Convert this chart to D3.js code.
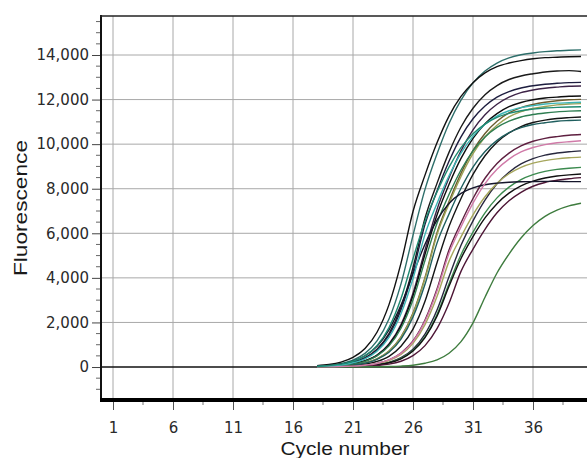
<!DOCTYPE html>
<html>
<head>
<meta charset="utf-8">
<script src="https://cdn.jsdelivr.net/npm/d3@7"></script>
<style>
  html, body { margin: 0; padding: 0; background: #fff; }
  svg { display: block; }
</style>
</head>
<body>
<svg id="chart" width="587" height="458"></svg>
<script>
// ---------- data ----------
const cycles = [18,19,20,21,22,23,24,25,26,27,28,29,30,31,32,33,34,35,36,37,38,39,40];

const xTickValues = [1, 6, 11, 16, 21, 26, 31, 36];
const yTickValues = [0, 2000, 4000, 6000, 8000, 10000, 12000, 14000];

const s01 = [40,80,160,310,610,1170,2150,3730,5910,7970,9560,10930,11980,12750,13280,13640,13870,14010,14090,14150,14190,14210,14230];
const s02 = [60,110,220,430,830,1560,2800,4660,6980,8610,10060,11260,12140,12760,13200,13480,13640,13750,13830,13880,13900,13920,13930];
const s03 = [30,50,110,210,410,800,1500,2680,4460,6680,8240,9630,10770,11610,12220,12630,12900,13060,13160,13240,13280,13300,13260];
const s04 = [30,50,100,200,400,760,1430,2570,4280,6400,7900,9230,10330,11140,11710,12110,12360,12520,12620,12690,12730,12760,12770];
const s05 = [20,40,70,140,280,540,1040,1910,3310,5250,7070,8490,9700,10640,11320,11790,12110,12310,12430,12510,12560,12600,12610];
const s06 = [20,30,70,140,270,520,1000,1840,3200,5060,6820,8190,9360,10260,10920,11370,11680,11870,11990,12070,12110,12150,12160];
const s07 = [10,20,50,100,190,370,720,1350,2420,4020,6030,7430,8690,9720,10480,11030,11400,11640,11780,11880,11950,11990,12010];
const s08 = [10,20,50,90,190,370,710,1330,2380,3960,5930,7320,8550,9570,10320,10850,11220,11460,11600,11690,11760,11800,11820];
const s09 = [20,30,60,130,250,500,950,1740,3020,4780,6450,7740,8840,9700,10320,10750,11030,11220,11330,11400,11450,11480,11500];
const s10 = [10,20,30,60,130,250,480,930,1700,2950,4680,6300,7560,8640,9480,10090,10500,10790,10970,11080,11150,11190,11220];
const s11 = [10,20,40,90,170,340,660,1250,2240,3710,5560,6860,8020,8970,9670,10170,10520,10740,10880,10960,11030,11060,11080];
const s12 = [10,10,20,40,80,160,320,630,1170,2110,3500,5250,6470,7560,8470,9130,9600,9920,10130,10260,10340,10400,10430];
const s13 = [0,10,10,30,50,110,210,420,800,1480,2560,4050,5460,6560,7490,8220,8740,9110,9350,9510,9600,9660,9700];
const s14 = [10,10,20,40,70,150,290,560,1060,1900,3160,4740,5840,6830,7640,8240,8670,8960,9150,9260,9340,9390,9420];
const s15 = [0,10,10,30,50,100,200,390,740,1360,2360,3740,5040,6050,6920,7590,8070,8410,8630,8780,8870,8920,8960];
const s16 = [0,10,10,20,50,100,190,370,720,1320,2280,3620,4870,5850,6690,7330,7800,8130,8340,8480,8570,8620,8660];
const s17 = [0,0,10,20,30,70,130,260,510,960,1720,2860,4290,5290,6180,6920,7460,7840,8110,8280,8380,8450,8500];
const s18 = [30,70,130,260,500,930,1670,2780,4170,5510,6590,7340,7790,8040,8180,8250,8290,8310,8320,8330,8330,8320,8320];
const s19 = [0,0,0,0,10,10,20,40,80,170,320,620,1140,1980,3130,4220,5070,5790,6350,6760,7040,7230,7350];
const s20 = [10,10,20,40,80,160,320,610,1140,2050,3410,5100,6290,7350,8230,8870,9330,9650,9850,9980,10060,10110,10150];
const s21 = [20,50,90,190,370,710,1330,2390,3970,5950,7340,8580,9600,10350,10890,11260,11500,11640,11730,11800,11840,11860,11880];
const s22 = [30,70,130,260,500,960,1770,3070,4860,6540,7850,8970,9840,10470,10900,11200,11380,11500,11570,11620,11650,11670,11680];

const seriesValues = [s01,s02,s03,s04,s05,s06,s07,s08,s09,s10,s11,s12,s13,s14,s15,s16,s17,s18,s19,s20,s21,s22];
const seriesColors = ["#2d6e6a","#111111","#1a1a1a","#1d1d3f","#3d2347","#0d0d0d","#6b5b2e","#9ba154",
                      "#2f7e52","#151515","#1f5e5e","#5e1f40","#28283e","#a6a65c","#3b8a4e","#111111",
                      "#4d1535","#14142a","#3e7c3e","#d07aa8","#3bb4b4","#1f8a72"];

// ---------- layout ----------
const svg = d3.select("#chart");
const plotL = 101, plotR = 587, plotT = 16, plotB = 400;

const x = d3.scaleLinear().domain([0, 40.5]).range([plotL, plotR]);
const y = d3.scaleLinear().domain([-1480, 15750]).range([plotB, plotT]);

svg.append("rect").attr("width", 587).attr("height", 458).attr("fill", "#fff");

svg.append("defs").append("clipPath").attr("id", "plotclip")
  .append("rect").attr("x", plotL).attr("y", plotT).attr("width", plotR - plotL).attr("height", plotB - plotT);

// grid
const grid = svg.append("g");
grid.selectAll("line.v").data(xTickValues).join("line")
  .attr("class", "v")
  .attr("x1", d => x(d)).attr("x2", d => x(d))
  .attr("y1", plotT).attr("y2", plotB)
  .attr("stroke", "#a8a8a8").attr("stroke-width", 1);
grid.selectAll("line.h").data(yTickValues).join("line")
  .attr("class", "h")
  .attr("x1", plotL).attr("x2", plotR)
  .attr("y1", d => y(d)).attr("y2", d => y(d))
  .attr("stroke", d => d === 0 ? "#111" : "#a8a8a8")
  .attr("stroke-width", d => d === 0 ? 1.5 : 1);

// curves
const line = d3.line()
  .x((d, i) => x(cycles[i]))
  .y(d => y(d))
  .curve(d3.curveMonotoneX);

svg.append("g").attr("clip-path", "url(#plotclip)")
  .selectAll("path").data(seriesValues).join("path")
  .attr("d", d => line(d))
  .attr("fill", "none")
  .attr("stroke", (d, i) => seriesColors[i])
  .attr("stroke-width", 1.4);

// y axis
const yMinor = d3.range(-1000, 15501, 500).filter(v => v % 2000 !== 0);
const yAxis = d3.axisLeft(y).tickValues(yTickValues).tickSize(9).tickPadding(3)
  .tickFormat(d3.format(","));
const yg = svg.append("g").attr("transform", `translate(${plotL},0)`).call(yAxis);
yg.select(".domain").remove();
yg.selectAll(".tick line").attr("stroke", "#444");
yg.selectAll(".tick text").attr("font-family", "DejaVu Sans").attr("font-size", 15).attr("fill", "#2a2a2a");
svg.append("g").selectAll("line").data(yMinor).join("line")
  .attr("x1", plotL - 5).attr("x2", plotL)
  .attr("y1", d => y(d)).attr("y2", d => y(d))
  .attr("stroke", "#666");

// x axis
const xMinor = xTickValues.map(v => v + 2.5);
const xAxis = d3.axisBottom(x).tickValues(xTickValues).tickSize(10).tickPadding(12);
const xg = svg.append("g").attr("transform", `translate(0,${plotB})`).call(xAxis);
xg.select(".domain").remove();
xg.selectAll(".tick line").attr("stroke", "#555");
xg.selectAll(".tick text").attr("font-family", "DejaVu Sans").attr("font-size", 15).attr("fill", "#2a2a2a");
svg.append("g").selectAll("line").data(xMinor).join("line")
  .attr("x1", d => x(d)).attr("x2", d => x(d))
  .attr("y1", plotB).attr("y2", plotB + 5)
  .attr("stroke", "#777");

// frame
svg.append("line").attr("x1", plotL).attr("x2", plotL).attr("y1", plotT - 1).attr("y2", plotB + 2)
  .attr("stroke", "#111").attr("stroke-width", 2);
svg.append("line").attr("x1", plotL - 1).attr("x2", plotR).attr("y1", plotT).attr("y2", plotT)
  .attr("stroke", "#222").attr("stroke-width", 1.5);
svg.append("line").attr("x1", plotL - 1).attr("x2", plotR).attr("y1", plotB).attr("y2", plotB)
  .attr("stroke", "#000").attr("stroke-width", 4);

// titles
svg.append("text").text("Cycle number")
  .attr("x", 345).attr("y", 455).attr("text-anchor", "middle")
  .attr("font-family", "Liberation Sans, Arial, sans-serif").attr("font-size", 19)
  .attr("textLength", 129).attr("lengthAdjust", "spacingAndGlyphs")
  .attr("fill", "#1a1a1a");
svg.append("text").text("Fluorescence")
  .attr("transform", "translate(27,208) rotate(-90)")
  .attr("text-anchor", "middle")
  .attr("font-family", "Liberation Sans, Arial, sans-serif").attr("font-size", 19)
  .attr("textLength", 136).attr("lengthAdjust", "spacingAndGlyphs")
  .attr("fill", "#1a1a1a");
</script>
</body>
</html>
